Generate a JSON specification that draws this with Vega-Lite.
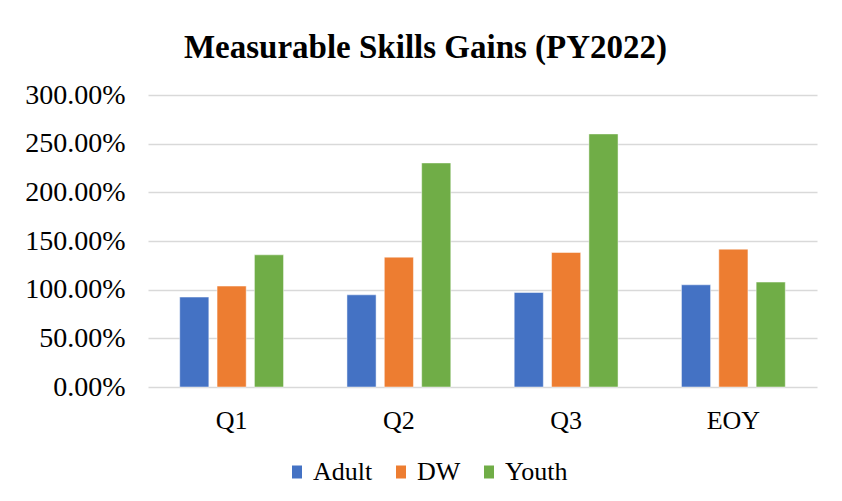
{
  "$schema": "https://vega.github.io/schema/vega-lite/v6.json",
  "autosize": "none",
  "width": 669,
  "height": 292,
  "padding": {"left": 148, "top": 95, "right": 25, "bottom": 114},
  "background": "#ffffff",
  "title": {
    "text": "Measurable Skills Gains (PY2022)",
    "font": "Liberation Serif",
    "fontSize": 33,
    "fontWeight": "bold",
    "color": "#000000",
    "anchor": "middle",
    "frame": "group",
    "dx": -57,
    "baseline": "alphabetic",
    "offset": -10
  },
  "data": {
    "values": [
      {"period": "Q1", "program": "Adult", "rate": 0.924},
      {"period": "Q1", "program": "DW", "rate": 1.037},
      {"period": "Q1", "program": "Youth", "rate": 1.358},
      {"period": "Q2", "program": "Adult", "rate": 0.947},
      {"period": "Q2", "program": "DW", "rate": 1.334},
      {"period": "Q2", "program": "Youth", "rate": 2.302},
      {"period": "Q3", "program": "Adult", "rate": 0.971},
      {"period": "Q3", "program": "DW", "rate": 1.382},
      {"period": "Q3", "program": "Youth", "rate": 2.6},
      {"period": "EOY", "program": "Adult", "rate": 1.05},
      {"period": "EOY", "program": "DW", "rate": 1.416},
      {"period": "EOY", "program": "Youth", "rate": 1.078}
    ]
  },
  "mark": {"type": "bar", "stroke": "#ffffff", "strokeWidth": 0.8, "strokeOpacity": 0.6},
  "encoding": {
    "x": {
      "field": "period",
      "type": "nominal",
      "sort": ["Q1", "Q2", "Q3", "EOY"],
      "scale": {"paddingInner": 0.33, "paddingOuter": 0.165},
      "axis": {
        "title": null,
        "domain": false,
        "ticks": false,
        "labelAngle": 0,
        "labelFont": "Liberation Serif",
        "labelFontSize": 26,
        "labelColor": "#000000",
        "labelPadding": 20
      }
    },
    "xOffset": {
      "field": "program",
      "type": "nominal",
      "sort": ["Adult", "DW", "Youth"],
      "scale": {"paddingInner": 0.22, "paddingOuter": 0.11}
    },
    "y": {
      "field": "rate",
      "type": "quantitative",
      "scale": {"domain": [0, 3], "nice": false},
      "axis": {
        "title": null,
        "values": [0, 0.5, 1, 1.5, 2, 2.5, 3],
        "format": ".2%",
        "domain": false,
        "ticks": false,
        "grid": true,
        "gridColor": "#d9d9d9",
        "gridWidth": 1.5,
        "labelFont": "Liberation Serif",
        "labelFontSize": 28,
        "labelColor": "#000000",
        "labelPadding": 23
      }
    },
    "color": {
      "field": "program",
      "type": "nominal",
      "sort": ["Adult", "DW", "Youth"],
      "scale": {"domain": ["Adult", "DW", "Youth"], "range": ["#4472C4", "#ED7D31", "#70AD47"]},
      "legend": {
        "title": null,
        "orient": "none",
        "direction": "horizontal",
        "legendX": 136,
        "legendY": 364,
        "padding": 0,
        "symbolType": "M-0.77,-1H0.77V1H-0.77Z",
        "symbolSize": 169,
        "symbolStrokeWidth": 0,
        "labelFont": "Liberation Serif",
        "labelFontSize": 26,
        "labelColor": "#000000",
        "labelOffset": 3,
        "columnPadding": 15
      }
    }
  },
  "config": {"view": {"stroke": null}}
}
